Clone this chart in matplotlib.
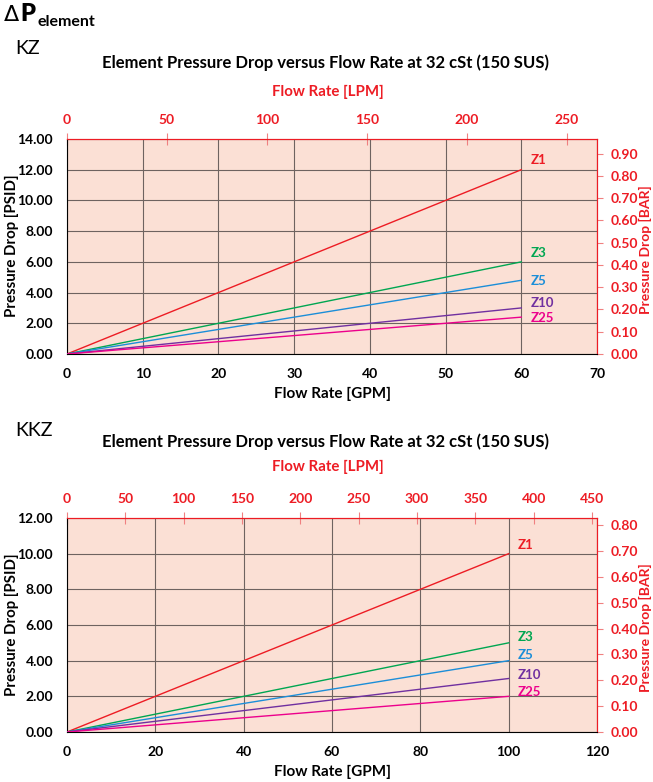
import matplotlib.pyplot as plt
import matplotlib.ticker as mticker

W, H = 653, 782

series_names = ["Z1", "Z3", "Z5", "Z10", "Z25"]
series_colors = ["#ED1C24", "#00A651", "#1C8ED8", "#7030A0", "#EC008C"]

kz_flow_gpm = [0, 60]
kz_z1 = [0, 12.0]
kz_z3 = [0, 6.0]
kz_z5 = [0, 4.8]
kz_z10 = [0, 3.0]
kz_z25 = [0, 2.4]

kkz_flow_gpm = [0, 100]
kkz_z1 = [0, 10.0]
kkz_z3 = [0, 5.0]
kkz_z5 = [0, 4.0]
kkz_z10 = [0, 3.0]
kkz_z25 = [0, 2.0]

kz_lpm_ticks = [0, 50, 100, 150, 200, 250]
kkz_lpm_ticks = [0, 50, 100, 150, 200, 250, 300, 350, 400, 450]
kz_bar_ticks = [0.0, 0.1, 0.2, 0.3, 0.4, 0.5, 0.6, 0.7, 0.8, 0.9]
kkz_bar_ticks = [0.0, 0.1, 0.2, 0.3, 0.4, 0.5, 0.6, 0.7, 0.8]

LPM_PER_GPM = 3.78541
BAR_PER_PSI = 0.0689476

RED = "#ED1C24"
BG = "#FBE0D5"
GRID = "#6e6360"
FONT = "Lato"

plt.rcParams["font.family"] = [FONT, "DejaVu Sans"]


def px(x, y):
    return x / W, 1 - y / H


def make_chart(fig, rect_px, flow, series, xmax, xstep, ymax, ystep, lpm_ticks,
               bar_ticks, label_x, label_y):
    l, t, r, b = rect_px
    x0, y1 = px(l, t)
    x1, y0 = px(r, b)
    ax = fig.add_axes([x0, y0, x1 - x0, y1 - y0])
    ax.set_facecolor(BG)
    for name, vals, col in zip(series_names, series, series_colors):
        ax.plot(flow, vals, color=col, lw=1.0, zorder=3)
    for name, ly, col in zip(series_names, label_y, series_colors):
        ax.text(label_x, ly, name, color=col, fontsize=9.5, fontweight="bold",
                ha="left", va="center", zorder=4)
    ax.set_xlim(0, xmax)
    ax.set_ylim(0, ymax)
    ax.xaxis.set_major_locator(mticker.MultipleLocator(xstep))
    ax.yaxis.set_major_locator(mticker.MultipleLocator(ystep))
    ax.yaxis.set_major_formatter(mticker.FormatStrFormatter("%.2f"))
    ax.grid(True, color=GRID, lw=0.8, zorder=1)
    ax.set_axisbelow(True)
    ax.tick_params(axis="both", length=0, labelsize=10, pad=10)
    for lab in ax.get_xticklabels() + ax.get_yticklabels():
        lab.set_fontweight("bold")
    ax.spines["left"].set_color("black")
    ax.spines["bottom"].set_color("black")
    ax.spines["top"].set_color(RED)
    ax.spines["right"].set_color(RED)
    ax.set_xlabel("Flow Rate [GPM]", fontsize=11, fontweight="bold", labelpad=5)

    secx = ax.secondary_xaxis("top", functions=(lambda g: g * LPM_PER_GPM,
                                                lambda q: q / LPM_PER_GPM))
    secx.xaxis.set_major_locator(mticker.FixedLocator(lpm_ticks))
    secx.spines["top"].set_color(RED)
    secx.tick_params(axis="x", direction="inout", length=8, color="#F08080",
                     labelcolor=RED, labelsize=10, pad=5)
    for lab in secx.get_xticklabels():
        lab.set_fontweight("bold")

    secy = ax.secondary_yaxis("right", functions=(lambda p: p * BAR_PER_PSI,
                                                  lambda bb: bb / BAR_PER_PSI))
    secy.yaxis.set_major_locator(mticker.FixedLocator(bar_ticks))
    secy.yaxis.set_major_formatter(mticker.FormatStrFormatter("%.2f"))
    secy.spines["right"].set_color(RED)
    secy.tick_params(axis="y", direction="out", length=4, color="#F08080",
                     labelcolor=RED, labelsize=10, pad=6)
    for lab in secy.get_yticklabels():
        lab.set_fontweight("bold")
    return ax


fig = plt.figure(figsize=(W / 100, H / 100), dpi=100)

# Header
fig.text(*px(4, 21), "Δ", fontsize=16, family="DejaVu Sans", va="baseline", ha="left")
fig.text(*px(20, 21), "P", fontsize=17, fontweight="heavy", va="baseline", ha="left")
fig.text(*px(37, 26), "element", fontsize=11.5, fontweight="bold", va="baseline", ha="left")

TITLE = "Element Pressure Drop versus Flow Rate at 32 cSt (150 SUS)"

# Top chart (KZ)
fig.text(*px(15, 48), "KZ", fontsize=14, va="center", ha="left")
fig.text(*px(326, 63), TITLE, fontsize=12, fontweight="bold", ha="center", va="center")
fig.text(*px(328, 92), "Flow Rate [LPM]", fontsize=10.8, fontweight="bold",
         color=RED, ha="center", va="center")
fig.text(*px(12, 246), "Pressure Drop [PSID]", fontsize=10.8, fontweight="bold",
         ha="center", va="center", rotation=90)
fig.text(*px(645, 250), "Pressure Drop [BAR]", fontsize=10, fontweight="bold",
         color=RED, ha="center", va="center", rotation=90)
make_chart(fig, (67, 139, 597, 354), kz_flow_gpm,
           [kz_z1, kz_z3, kz_z5, kz_z10, kz_z25],
           70, 10, 14, 2, kz_lpm_ticks, kz_bar_ticks, 61.3,
           [12.65, 6.6, 4.75, 3.3, 2.35])

# Bottom chart (KKZ)
fig.text(*px(15, 430), "KKZ", fontsize=14, va="center", ha="left")
fig.text(*px(326, 442), TITLE, fontsize=12, fontweight="bold", ha="center", va="center")
fig.text(*px(328, 467), "Flow Rate [LPM]", fontsize=10.8, fontweight="bold",
         color=RED, ha="center", va="center")
fig.text(*px(12, 625), "Pressure Drop [PSID]", fontsize=10.8, fontweight="bold",
         ha="center", va="center", rotation=90)
fig.text(*px(645, 628), "Pressure Drop [BAR]", fontsize=10, fontweight="bold",
         color=RED, ha="center", va="center", rotation=90)
make_chart(fig, (67, 518, 597, 732), kkz_flow_gpm,
           [kkz_z1, kkz_z3, kkz_z5, kkz_z10, kkz_z25],
           120, 20, 12, 2, kkz_lpm_ticks, kkz_bar_ticks, 102.1,
           [10.5, 5.35, 4.3, 3.2, 2.25])

fig.savefig("out.png", dpi=100)
